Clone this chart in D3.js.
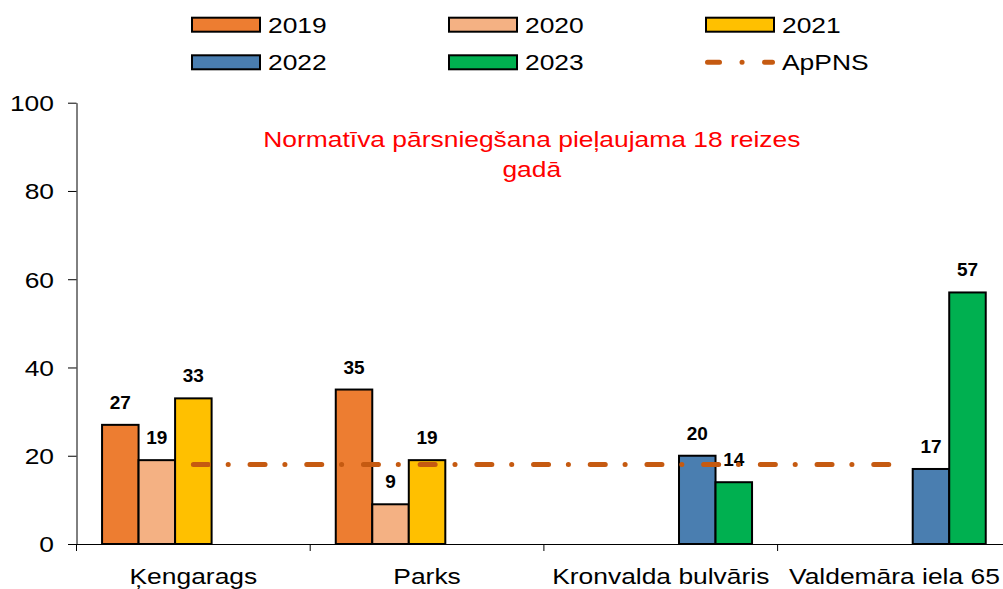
<!DOCTYPE html>
<html>
<head>
<meta charset="utf-8">
<script src="https://cdn.jsdelivr.net/npm/d3@7"></script>
<style>
  html, body { margin: 0; padding: 0; background: #fff; }
  svg { display: block; font-family: "Liberation Sans", Arial, sans-serif; }
</style>
</head>
<body>
<svg id="chart" width="1003" height="589"></svg>
<script>
const categories = ["Ķengarags", "Parks", "Kronvalda bulvāris", "Valdemāra iela 65"];
const series = ["2019", "2020", "2021", "2022", "2023"];
const values2019 = [27, 35, null, null];
const values2020 = [19, 9, null, null];
const values2021 = [33, 19, null, null];
const values2022 = [null, null, 20, 17];
const values2023 = [null, null, 14, 57];
const apPNS = [18, 18, 18, 18];
const yTicks = [0, 20, 40, 60, 80, 100];
const titleLines = ["Normatīva pārsniegšana pieļaujama 18 reizes", "gadā"];
const lineLabel = "ApPNS";

const seriesValues = { "2019": values2019, "2020": values2020, "2021": values2021, "2022": values2022, "2023": values2023 };
const colors = { "2019": "#ED7D31", "2020": "#F4B183", "2021": "#FFC000", "2022": "#4A7EB0", "2023": "#00B050" };
const lineColor = "#C55A11";
const K = 1.2; // horizontal text stretch

function stretch(sel, k) {
  sel.each(function() {
    const w = this.getComputedTextLength();
    this.setAttribute("textLength", w * k);
    this.setAttribute("lengthAdjust", "spacingAndGlyphs");
  });
}

const svg = d3.select("#chart");
const plotLeft = 76.5, plotRight = 1011.3, plotTop = 102.7, plotBottom = 544;

const y = d3.scaleLinear().domain([0, 100]).range([plotBottom, plotTop]);
const x0 = d3.scaleBand().domain(categories).range([plotLeft, plotRight]).paddingInner(0).paddingOuter(0);
const x1 = d3.scaleBand().domain(series).range([0, x0.bandwidth()]).paddingInner(0).paddingOuter(0.7);

// Y axis
const yAxis = svg.append("g").attr("transform", `translate(${plotLeft},0)`)
  .call(d3.axisLeft(y).tickValues(yTicks).tickSize(8.5).tickSizeOuter(0).tickPadding(14));
yAxis.select(".domain").attr("stroke", "#000").attr("stroke-width", 1);
yAxis.selectAll(".tick line").attr("stroke", "#000").attr("stroke-width", 1);
yAxis.selectAll(".tick text").attr("font-size", 22).attr("fill", "#000")
  .attr("font-family", "Liberation Sans, Arial, sans-serif").attr("dy", "0.36em");
stretch(yAxis.selectAll(".tick text"), K);

// Bars
const groups = svg.append("g").selectAll("g").data(categories).join("g")
  .attr("transform", d => `translate(${x0(d)},0)`);
const barData = (c, i) => series.map(s => ({ s, v: seriesValues[s][i] })).filter(d => d.v != null);
groups.each(function(c, i) {
  const g = d3.select(this);
  g.selectAll("rect").data(barData(c, i)).join("rect")
    .attr("x", d => x1(d.s))
    .attr("y", d => y(d.v))
    .attr("width", x1.bandwidth())
    .attr("height", d => y(0) - y(d.v))
    .attr("fill", d => colors[d.s])
    .attr("stroke", "#000")
    .attr("stroke-width", 2);
});

// X axis
const xAxis = svg.append("g").attr("transform", `translate(0,${plotBottom})`)
  .call(d3.axisBottom(x0).tickSize(0).tickSizeOuter(0).tickPadding(24));
xAxis.select(".domain").attr("stroke", "#000").attr("stroke-width", 1);
xAxis.selectAll(".tick text").attr("font-size", 22).attr("fill", "#000")
  .attr("font-family", "Liberation Sans, Arial, sans-serif").attr("dy", "0.71em");
stretch(xAxis.selectAll(".tick text"), K);
svg.append("g").selectAll("line").data(categories).join("line")
  .attr("x1", d => x0(d)).attr("x2", d => x0(d))
  .attr("y1", plotBottom).attr("y2", plotBottom + 7)
  .attr("stroke", "#000").attr("stroke-width", 1);

// ApPNS line
const line = d3.line().x((d, i) => x0(categories[i]) + x0.bandwidth() / 2).y(d => y(d));
svg.append("path").datum(apPNS)
  .attr("d", line)
  .attr("fill", "none")
  .attr("stroke", lineColor)
  .attr("stroke-width", 5)
  .attr("stroke-linecap", "round")
  .attr("stroke-dasharray", "15 19.8 0.1 21.8");

// Data labels
groups.each(function(c, i) {
  const g = d3.select(this);
  g.selectAll("text.lbl").data(barData(c, i)).join("text")
    .attr("class", "lbl")
    .attr("x", d => x1(d.s) + x1.bandwidth() / 2)
    .attr("y", d => y(d.v) - 16)
    .attr("text-anchor", "middle")
    .attr("font-size", 19)
    .attr("font-weight", "bold")
    .attr("fill", "#000")
    .text(d => d.v);
});

// Title
svg.append("g").selectAll("text").data(titleLines).join("text")
  .attr("x", 531.8)
  .attr("y", (d, i) => 146.7 + i * 30)
  .attr("text-anchor", "middle")
  .attr("font-size", 22)
  .attr("fill", "#FF0000")
  .text(d => d)
  .call(stretch, K);

// Legend
const legendItems = series.map(s => ({ key: s, type: "bar" })).concat([{ key: lineLabel, type: "line" }]);
const colX = [192, 449, 706], rowY = [24.7, 62.3];
const leg = svg.append("g").selectAll("g").data(legendItems).join("g")
  .attr("transform", (d, i) => `translate(${colX[i % 3]},${rowY[Math.floor(i / 3)]})`);
leg.filter(d => d.type === "bar").append("rect")
  .attr("x", 0).attr("y", -7).attr("width", 68).attr("height", 14)
  .attr("fill", d => colors[d.key]).attr("stroke", "#000").attr("stroke-width", 2);
leg.filter(d => d.type === "line").append("line")
  .attr("x1", 1.5).attr("x2", 66.5).attr("y1", 0).attr("y2", 0)
  .attr("stroke", lineColor).attr("stroke-width", 5).attr("stroke-linecap", "round")
  .attr("stroke-dasharray", "12 22.5 0.1 22.4");
leg.append("text")
  .attr("x", 76).attr("y", 8)
  .attr("font-size", 22).attr("fill", "#000")
  .text(d => d.key)
  .call(stretch, K);
</script>
</body>
</html>
